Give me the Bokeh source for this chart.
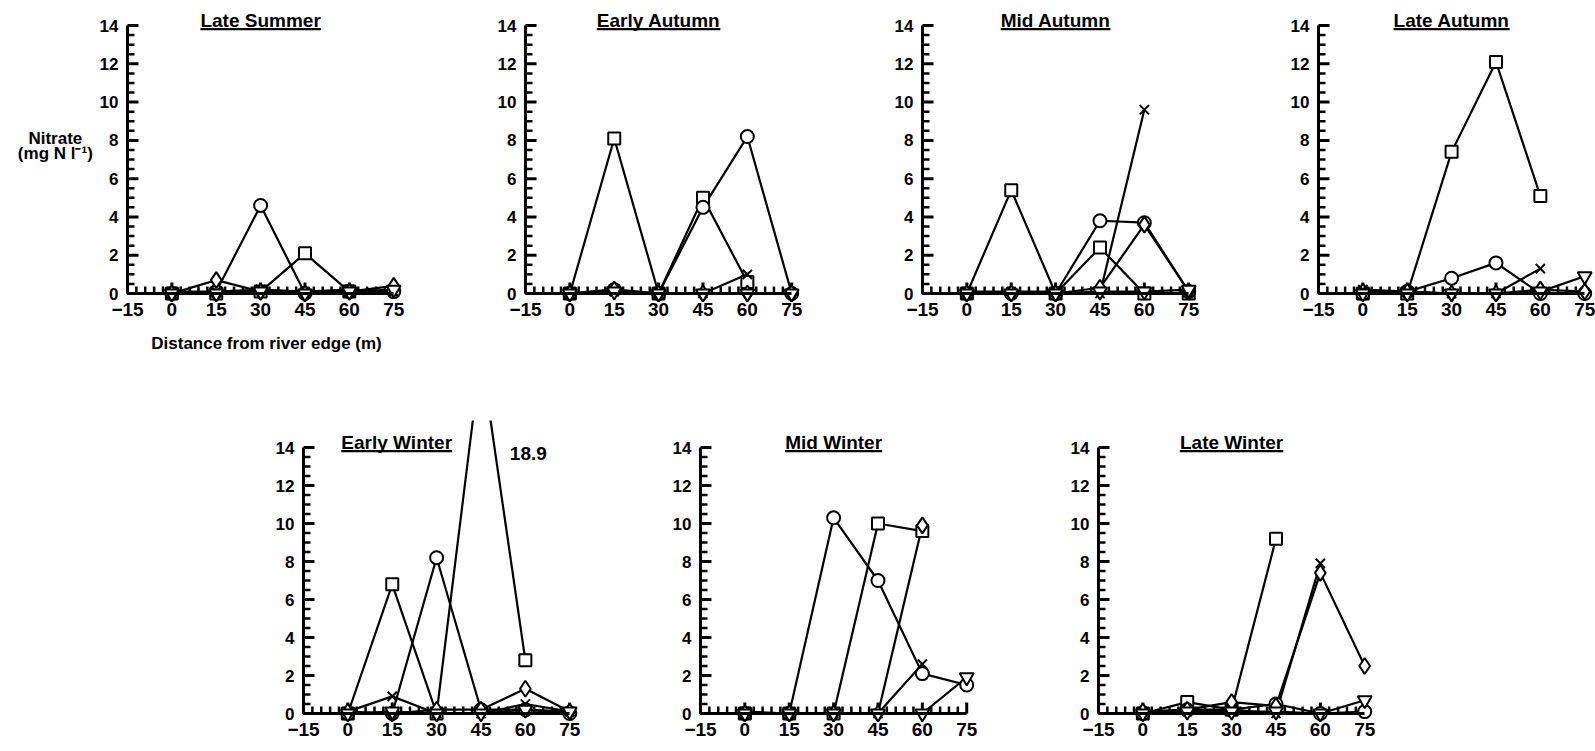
from bokeh.plotting import figure
from bokeh.models import Label, SingleIntervalTicker, Range1d, ColumnDataSource
from bokeh.layouts import column, row
from bokeh.embed import file_html
from bokeh.resources import INLINE

nan = float("nan")

# Sampling distances from the river edge (m)
distance = [0, 15, 30, 45, 60, 75]

# Nitrate (mg N l-1) per transect, one dict per sampling period
late_summer = dict(
    square=[0.0, 0.0, 0.1, 2.1, 0.1, nan],
    circle=[0.0, 0.1, 4.6, 0.0, 0.1, 0.1],
    diamond=[0.0, 0.7, 0.1, 0.0, 0.1, 0.4],
    cross=[0.1, 0.1, 0.2, 0.1, 0.2, 0.1],
    triangle=[0.0, 0.0, 0.1, 0.0, 0.1, 0.2],
)
early_autumn = dict(
    square=[0.0, 8.1, 0.0, 5.0, 0.6, nan],
    circle=[0.0, 0.2, 0.0, 4.5, 8.2, 0.0],
    diamond=[0.0, 0.2, 0.0, 0.0, 0.0, 0.0],
    cross=[0.0, 0.1, 0.0, 0.0, 1.0, nan],
    triangle=[0.0, 0.1, 0.0, 0.0, 0.0, 0.0],
)
mid_autumn = dict(
    square=[0.0, 5.4, 0.0, 2.4, 0.0, 0.0],
    circle=[0.0, 0.0, 0.0, 3.8, 3.7, 0.1],
    diamond=[0.0, 0.0, 0.0, 0.3, 3.6, 0.1],
    cross=[0.1, 0.1, 0.1, 0.0, 9.6, nan],
    triangle=[0.0, 0.0, 0.0, 0.1, 0.1, 0.2],
)
late_autumn = dict(
    square=[0.0, 0.0, 7.4, 12.1, 5.1, nan],
    circle=[0.0, 0.1, 0.8, 1.6, 0.0, 0.0],
    diamond=[0.1, 0.1, 0.0, 0.0, 0.2, 0.1],
    cross=[0.2, 0.1, 0.0, 0.0, 1.3, nan],
    triangle=[0.0, 0.0, 0.0, 0.0, 0.1, 0.9],
)
early_winter = dict(
    square=[0.0, 6.8, 0.0, 18.9, 2.8, nan],
    circle=[0.0, 0.0, 8.2, 0.2, 0.2, 0.0],
    diamond=[0.1, 0.0, 0.2, 0.2, 1.3, 0.1],
    cross=[0.1, 0.9, 0.0, 0.0, 0.5, 0.1],
    triangle=[0.0, 0.1, 0.0, 0.0, 0.2, 0.1],
)
mid_winter = dict(
    square=[0.0, 0.0, 0.0, 10.0, 9.6, nan],
    circle=[0.0, 0.0, 10.3, 7.0, 2.1, 1.5],
    diamond=[0.0, 0.0, 0.0, 0.0, 9.9, nan],
    cross=[0.1, 0.0, 0.0, 0.0, 2.6, nan],
    triangle=[0.0, 0.0, 0.0, 0.0, 0.0, 1.9],
)
late_winter = dict(
    square=[0.0, 0.6, 0.2, 9.2, nan, nan],
    circle=[0.0, 0.2, 0.2, 0.5, 0.0, 0.1],
    diamond=[0.1, 0.2, 0.6, 0.4, 7.4, 2.5],
    cross=[0.1, 0.1, 0.2, 0.0, 7.9, nan],
    triangle=[0.0, 0.1, 0.1, 0.1, 0.0, 0.7],
)

# inward tick marks along both axes
y_major_ticks = [0, 2, 4, 6, 8, 10, 12, 14]
y_minor_ticks = [v / 2 for v in range(0, 29) if v % 4]
x_major_ticks = [-15, 0, 15, 30, 45, 60, 75]
x_minor_ticks = [v for v in range(-15, 76, 3) if v % 15]

FONT = "Liberation Sans"
SX = 2.958          # horizontal pixels per metre
SY_TOP = 19.14      # vertical pixels per mg N l-1, upper row
SY_BOTTOM = 19.0    # vertical pixels per mg N l-1, lower row

# marker shape and size for each transect
SERIES = [
    ("square", "square", 12),
    ("circle", "circle", 13),
    ("diamond", "diamond", 16),
    ("cross", "x", 13),
    ("triangle", "inverted_triangle", 14),
]

# Arial/Liberation Sans Bold advance widths (1/1000 em) for the title underline
BOLD_W = {" ": 278, "A": 722, "E": 667, "L": 611, "M": 833, "S": 667, "W": 944,
          "a": 556, "d": 611, "e": 556, "i": 278, "l": 278, "m": 889, "n": 611,
          "r": 389, "t": 333, "u": 611, "y": 556}


def text_width_px(text, size):
    return sum(BOLD_W.get(c, 556) for c in text) / 1000.0 * size


def tick_comb(p, sy):
    """Inward tick marks drawn as short segments: 11 px majors, 7 px minors."""
    for ticks, length, width in ((y_major_ticks, 11, 3), (y_minor_ticks, 7, 2.5)):
        n = len(ticks)
        src = ColumnDataSource(dict(
            xa=[-15.0] * n, ya=[float(t) for t in ticks],
            xb=[-15.0 + length / SX] * n, yb=[float(t) for t in ticks]))
        p.segment(x0="xa", y0="ya", x1="xb", y1="yb", source=src,
                  line_color="black", line_width=width)
    for ticks, length, width in ((x_major_ticks, 11, 3), (x_minor_ticks, 7, 2.5)):
        n = len(ticks)
        src = ColumnDataSource(dict(
            xa=[float(t) for t in ticks], ya=[0.0] * n,
            xb=[float(t) for t in ticks], yb=[length / sy] * n))
        p.segment(x0="xa", y0="ya", x1="xb", y1="yb", source=src,
                  line_color="black", line_width=width)


def style_axes(p, sy):
    xa = p.xaxis[0]
    ya = p.yaxis[0]
    xa.fixed_location = 0
    ya.fixed_location = -15
    xa.bounds = (-15, 75)
    ya.bounds = (0, 14)
    xa.ticker = SingleIntervalTicker(interval=15, num_minor_ticks=5)
    ya.ticker = SingleIntervalTicker(interval=2, num_minor_ticks=4)
    for ax, fs in ((xa, "19px"), (ya, "17px")):
        ax.axis_line_color = "black"
        ax.axis_line_width = 3
        ax.major_tick_in = 0
        ax.major_tick_out = 0
        ax.minor_tick_in = 0
        ax.minor_tick_out = 0
        ax.major_label_text_font = FONT
        ax.major_label_text_font_style = "bold"
        ax.major_label_text_font_size = fs
        ax.major_label_text_color = "black"
        ax.major_label_standoff = 9
    p.grid.visible = False
    p.outline_line_color = None
    tick_comb(p, sy)


def panel(title, data, width, axis_px, height, zero_px, sy, title_x=30.0):
    """One panel; axis_px / zero_px place the x=-15 and y=0 lines inside the figure."""
    x0 = -15 - axis_px / SX
    y1 = zero_px / sy
    p = figure(width=width, height=height,
               x_range=Range1d(x0, x0 + width / SX),
               y_range=Range1d(y1 - height / sy, y1),
               output_backend="svg", toolbar_location=None, title=None,
               min_border_left=0, min_border_right=0,
               min_border_top=0, min_border_bottom=0,
               background_fill_color="white", border_fill_color="white")
    style_axes(p, sy)
    for key, marker, size in SERIES:
        p.line(distance, data[key], line_color="black", line_width=2.2)
    for key, marker, size in SERIES:
        p.scatter(distance, data[key], marker=marker, size=size,
                  fill_color="white", line_color="black", line_width=2)

    # underlined panel title
    title_size = 19
    p.add_layout(Label(x=title_x, y=14.26, text=title, text_align="center",
                       text_baseline="middle", text_font=FONT,
                       text_font_style="bold", text_font_size=f"{title_size}px",
                       text_color="black"))
    half = text_width_px(title, title_size) / 2.0 / SX
    uy = 14.26 - 8.5 / sy
    p.segment(x0=[title_x - half], y0=[uy], x1=[title_x + half], y1=[uy],
              line_color="black", line_width=2.2)
    return p


p1 = panel("Late Summer", late_summer, 407, 127, 420, 293, SY_TOP)
p2 = panel("Early Autumn", early_autumn, 397, 118, 420, 293, SY_TOP)
p3 = panel("Mid Autumn", mid_autumn, 397, 118, 420, 293, SY_TOP)
p4 = panel("Late Autumn", late_autumn, 394, 117, 420, 293, SY_TOP)
p5 = panel("Early Winter", early_winter, 582, 303, 331, 293, SY_BOTTOM, title_x=16.5)
p6 = panel("Mid Winter", mid_winter, 397, 118, 331, 293, SY_BOTTOM)
p7 = panel("Late Winter", late_winter, 398, 119, 331, 293, SY_BOTTOM)

# shared axis titles, drawn once on the first panel
lbl = dict(text_font=FONT, text_font_style="bold", text_color="black",
           text_align="center", text_baseline="middle")
p1.add_layout(Label(x=-39.4, y=8.1, text="Nitrate", text_font_size="17px", **lbl))
p1.add_layout(Label(x=-39.4, y=7.3, text="(mg N l\u207b\u00b9)", text_font_size="17px", **lbl))
p1.add_layout(Label(x=32.0, y=-2.6, text="Distance from river edge (m)",
                    text_font_size="17px", **lbl))

# the off-scale peak is annotated with its value
p5.add_layout(Label(x=61.0, y=13.66, text=f"{early_winter['square'][3]:.1f}",
                    text_font_size="19px", **lbl))

layout = column(row(p1, p2, p3, p4, spacing=0), row(p5, p6, p7, spacing=0), spacing=0)

with open("out.html", "w") as f:
    f.write(file_html(layout, INLINE))
